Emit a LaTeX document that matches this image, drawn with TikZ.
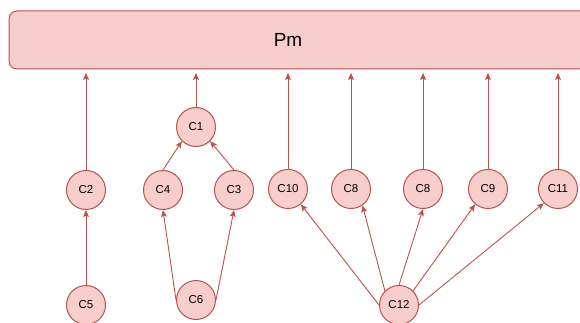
\documentclass[tikz,border=0pt]{standalone}
\usepackage{fontspec}
\setmainfont{Liberation Sans}
\usetikzlibrary{arrows.meta}
\definecolor{redfill}{HTML}{F8CECC}
\definecolor{redline}{HTML}{B85450}
\tikzset{
  cnode/.style={circle, draw=redline, fill=redfill, line width=1pt, minimum size=39pt, inner sep=0pt, font=\fontsize{11.5}{13}\selectfont},
  pmbox/.style={rectangle, rounded corners=8pt, draw=redline, fill=redfill, line width=1pt, minimum width=592pt, minimum height=58pt, inner sep=0pt},
  link/.style={draw=redline, line width=0.9pt, -{Stealth[length=7pt,width=6pt,inset=1.5pt]}},
  uplink/.style={link, shorten >=3.5pt}
}
\begin{document}
\begin{tikzpicture}[x=1pt,y=-1pt]
\useasboundingbox (0,0) rectangle (580,323);
\node[pmbox, label={[font=\fontsize{19}{22}\selectfont, xshift=-17pt]center:Pm}] (pm) at (305,40) {};
\node[cnode] (c1) at (196,127) {C1};
\node[cnode] (c2) at (86,190) {C2};
\node[cnode] (c4) at (163,190) {C4};
\node[cnode] (c3) at (234,190) {C3};
\node[cnode] (c5) at (86,305) {C5};
\node[cnode] (c6) at (196,300) {C6};
\node[cnode] (c10) at (288,189) {C10};
\node[cnode] (c8a) at (351,189) {C8};
\node[cnode] (c8b) at (423,189) {C8};
\node[cnode] (c9) at (488,189) {C9};
\node[cnode] (c11) at (558,189) {C11};
\node[cnode] (c12) at (399,305) {C12};
\foreach \n in {c2,c1,c10,c8a,c8b,c9,c11}
  \draw[uplink] (\n.north) -- (\n.north |- pm.south);
\draw[link] (c4.north) -- (c1.-135);
\draw[link] (c3.north) -- (c1.-45);
\draw[link] (c5.north) -- (c2.south);
\draw[link] (c6.west) -- (c4.south);
\draw[link] (c6.east) -- (c3.south);
\draw[link] (c12.west) -- (c10.-50);
\draw[link] (c12.135) -- (c8a.-55);
\draw[link] (c12.north) -- (c8b.south);
\draw[link] (c12.45) -- (c9.-130);
\draw[link] (c12.east) -- (c11.-135);
\end{tikzpicture}
\end{document}
